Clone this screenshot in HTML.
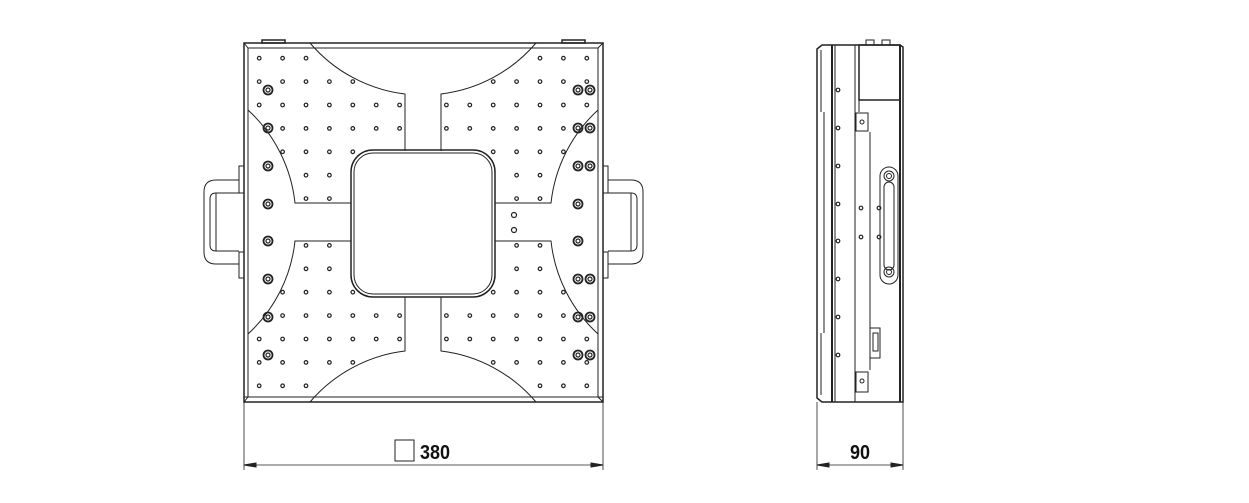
<!DOCTYPE html>
<html><head><meta charset="utf-8"><style>
html,body{margin:0;padding:0;background:#fff;}
svg{display:block;}
text{font-family:"Liberation Sans Narrow","Liberation Sans",sans-serif;font-weight:bold;}
</style></head><body>
<svg id="s" width="1249" height="503" viewBox="0 0 1249 503" xmlns="http://www.w3.org/2000/svg" fill="none" stroke="#222" stroke-width="1">
<rect x="244" y="43" width="359" height="359" stroke-width="1.5"/>
<line x1="248" y1="48" x2="248" y2="397"/>
<line x1="598" y1="48" x2="598" y2="397"/>
<line x1="248" y1="48" x2="598" y2="48"/>
<line x1="244" y1="397" x2="603" y2="397"/>
<path d="M244 43 L248 48 M603 43 L598 48 M244 402 L248 397 M603 402 L598 397"/>
<rect x="262" y="40" width="23" height="3" stroke-width="1.5"/>
<rect x="562" y="40" width="23" height="3" stroke-width="1.5"/>
<path d="M310 43 A147.6 147.6 0 0 0 405 94 L405 151"/>
<path d="M536 43 A147.6 147.6 0 0 1 441 94 L441 151"/>
<path d="M310 402 A147.6 147.6 0 0 1 405 351 L405 297"/>
<path d="M536 402 A147.6 147.6 0 0 0 441 351 L441 297"/>
<path d="M248 110 A147.6 147.6 0 0 1 295 203 L351 203"/>
<path d="M248 334 A147.6 147.6 0 0 0 295 241 L351 241"/>
<path d="M598 110 A147.6 147.6 0 0 0 551 203 L495 203"/>
<path d="M598 334 A147.6 147.6 0 0 1 551 241 L495 241"/>
<rect x="351" y="150" width="144" height="147" rx="22" stroke-width="1.5"/>
<rect x="354" y="153" width="138" height="141" rx="19"/>
<g id="hl">
<rect x="239" y="166" width="5" height="27"/>
<rect x="239" y="252" width="5" height="26"/>
<path d="M239 180 L216 180 Q204 180 204 192 L204 252 Q204 264 216 264 L239 264"/>
<path d="M239 193 L216 193 Q210 193 210 199 L210 245 Q210 251 216 251 L239 251"/>
<line x1="216" y1="193" x2="216" y2="251"/>
</g>
<use href="#hl" transform="translate(847 0) scale(-1 1)"/>
<g id="holes" stroke-width="1.2"></g>
<line x1="244" y1="402" x2="244" y2="470" stroke-width="0.8"/>
<line x1="603" y1="402" x2="603" y2="470" stroke-width="0.8"/>
<line x1="244" y1="465" x2="603" y2="465" stroke-width="0.8"/>
<path d="M244 465 L256 463 L256 467 Z M603 465 L591 463 L591 467 Z" fill="#222"/>
<rect x="395" y="440" width="19" height="21" stroke-width="1"/>
<text x="420" y="459" font-size="20" fill="#111" stroke="none" textLength="30" lengthAdjust="spacingAndGlyphs">380</text>

<path d="M822 45 L900 45 L903 47 L903 402 L822 402 L817 398 L817 49 Z" stroke-width="1.5"/>
<line x1="832" y1="45" x2="832" y2="402" stroke-width="2"/>
<line x1="835" y1="45" x2="835" y2="402"/>
<line x1="821" y1="50" x2="821" y2="112"/>
<line x1="824" y1="112" x2="824" y2="333"/>
<line x1="821" y1="333" x2="821" y2="395"/>
<line x1="855" y1="45" x2="855" y2="402"/>
<line x1="859" y1="45" x2="859" y2="112"/>
<line x1="900" y1="45" x2="900" y2="402" stroke-width="2"/>
<rect x="859" y="45" width="41" height="55" stroke-width="1.5"/>
<rect x="866" y="40" width="8" height="5"/>
<rect x="882" y="40" width="8" height="5"/>
<rect x="856" y="113" width="12" height="18"/>
<rect x="856" y="372" width="12" height="20"/>
<circle cx="862" cy="122" r="2"/>
<circle cx="862" cy="381" r="2"/>
<line x1="870" y1="132" x2="870" y2="370"/>
<rect x="870" y="328" width="10" height="30"/>
<rect x="873" y="333" width="5" height="18"/>
<rect x="880" y="167" width="18" height="117" rx="9"/>
<rect x="884" y="182" width="10" height="88" rx="5"/>
<circle cx="889" cy="176" r="5"/><circle cx="889" cy="176" r="2.5"/>
<circle cx="889" cy="272" r="5"/><circle cx="889" cy="272" r="2.5"/>
<g id="sideholes" stroke-width="1.2"></g>
<line x1="817" y1="402" x2="817" y2="470" stroke-width="0.8"/>
<line x1="903" y1="402" x2="903" y2="470" stroke-width="0.8"/>
<line x1="817" y1="465" x2="903" y2="465" stroke-width="0.8"/>
<path d="M817 465 L829 463 L829 467 Z M903 465 L891 463 L891 467 Z" fill="#222"/>
<text x="850" y="459" font-size="20" fill="#111" stroke="none" textLength="20" lengthAdjust="spacingAndGlyphs">90</text>
</svg>
<script>
var NS="http://www.w3.org/2000/svg";
function c(g,x,y,r,w){var e=document.createElementNS(NS,"circle");e.setAttribute("cx",x);e.setAttribute("cy",y);e.setAttribute("r",r);if(w)e.setAttribute("stroke-width",w);g.appendChild(e);}
var g=document.getElementById("holes");
var bigL=[90,128,166,204,241,279,317,355];
function d(x,y,a,b){return Math.hypot(x-a,y-b);}
for(var n=-7;n<=7;n++){if(n==0)continue;var x=423+23.4*n;
 for(var m=-7;m<=7;m++){if(m==0)continue;var y=222+23.4*m;
  if(d(x,y,423,-52.6)<149||d(x,y,423,496.6)<149||d(x,y,148.4,222)<149||d(x,y,697.6,222)<149)continue;
  if((x>340&&x<506&&y>160&&y<285)||(x>355&&x<491&&y>146&&y<300))continue;
  var skip=false;for(var i=0;i<bigL.length;i++){if(d(x,y,268,bigL[i])<10||d(x,y,578,bigL[i])<10)skip=true;}
  if(skip)continue;
  c(g,x.toFixed(1),y.toFixed(1),1.8);
 }}
for(var i=0;i<bigL.length;i++){c(g,268,bigL[i],4.5,1.8);c(g,268,bigL[i],2);c(g,578,bigL[i],4.5,1.8);c(g,578,bigL[i],2);}
[90,128,166,279,317,355].forEach(function(y){c(g,590,y,4.5,1.8);c(g,590,y,2);});
c(g,514,215,2.5);c(g,514,230,2.5);
var s=document.getElementById("sideholes");
bigL.forEach(function(y){c(s,838,y,1.8);});
c(s,861,208,1.8);c(s,879,208,1.8);c(s,861,237,1.8);c(s,879,237,1.8);
</script>
</body></html>
